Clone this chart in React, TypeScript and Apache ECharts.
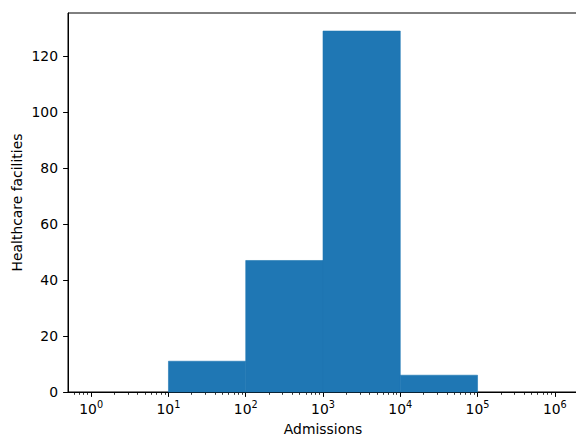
import React, { useEffect, useRef } from "react";
import * as echarts from "echarts";

const binEdges = [1, 10, 100, 1000, 10000, 100000, 1000000];
const counts = [0, 11, 47, 129, 6, 0];
const majorTickExponents = [0, 1, 2, 3, 4, 5, 6];
const yTicks = [0, 20, 40, 60, 80, 100, 120];

const xMin = -0.3;
const xMax = 6.3;
const yMax = 135.45;

const FONT = "DejaVu Sans";
const FS = 13.9;
const BAR_COLOR = "#1f77b4";

function minorTicks(): number[] {
  const out: number[] = [];
  for (let k = -1; k <= 6; k++) {
    for (let m = 2; m <= 9; m++) {
      const v = Math.log10(m * Math.pow(10, k));
      if (v > xMin && v < xMax) out.push(v);
    }
  }
  return out;
}

export default function App() {
  const ref = useRef<HTMLDivElement>(null);
  useEffect(() => {
    if (!ref.current) return;
    const chart = echarts.init(ref.current, null, { renderer: "svg" });
    const barData = counts.map((c, i) => [
      Math.log10(binEdges[i]),
      Math.log10(binEdges[i + 1]),
      c,
    ]);
    chart.setOption({
      animation: false,
      backgroundColor: "#ffffff",
      textStyle: { fontFamily: FONT },
      grid: {
        left: 68,
        top: 13,
        width: 510,
        height: 379,
        outerBoundsMode: "none",
        containLabel: false,
        show: true,
        borderColor: "#000000",
        borderWidth: 1,
        backgroundColor: "transparent",
      },
      xAxis: [
        {
          type: "value",
          min: xMin,
          max: xMax,
          position: "bottom",
          name: "Admissions",
          nameLocation: "middle",
          nameGap: 30,
          nameMoveOverlap: false,
          nameTextStyle: { fontFamily: FONT, fontSize: FS, color: "#000" },
          axisLine: { show: true, onZero: false, lineStyle: { color: "#000", width: 1 } },
          axisTick: {
            show: true,
            length: 4.9,
            customValues: majorTickExponents,
            lineStyle: { color: "#000", width: 1 },
          },
          splitLine: { show: false },
          axisLabel: {
            customValues: majorTickExponents,
            margin: 7,
            formatter: (v: number) => `{b|10}{s|${Math.round(v)}}`,
            rich: {
              b: { fontFamily: FONT, fontSize: FS, color: "#000", verticalAlign: "bottom", lineHeight: 17 },
              s: { fontFamily: FONT, fontSize: 9.7, color: "#000", verticalAlign: "bottom", lineHeight: 17, padding: [0, 0, 7, 0] },
            },
          },
        },
        {
          type: "value",
          min: xMin,
          max: xMax,
          position: "bottom",
          axisLine: { show: false, onZero: false },
          axisTick: {
            show: true,
            length: 2.8,
            customValues: minorTicks(),
            lineStyle: { color: "#000", width: 0.8 },
          },
          axisLabel: { show: false },
          splitLine: { show: false },
        },
      ],
      yAxis: {
        type: "value",
        min: 0,
        max: yMax,
        interval: 20,
        name: "Healthcare facilities",
        nameLocation: "middle",
        nameGap: 44,
        nameMoveOverlap: false,
        nameTextStyle: { fontFamily: FONT, fontSize: FS, color: "#000" },
        axisLine: { show: true, onZero: false, lineStyle: { color: "#000", width: 1 } },
        axisTick: { show: true, length: 4.9, customValues: yTicks, lineStyle: { color: "#000", width: 1 } },
        splitLine: { show: false },
        axisLabel: {
          customValues: yTicks,
          margin: 10,
          fontFamily: FONT,
          fontSize: FS,
          color: "#000",
        },
      },
      series: [
        {
          type: "custom",
          xAxisIndex: 0,
          yAxisIndex: 0,
          encode: { x: [0, 1], y: 2 },
          data: barData,
          renderItem: (params: any, api: any) => {
            const count = api.value(2);
            const p0 = api.coord([api.value(0), 0]);
            const p1 = api.coord([api.value(1), count]);
            return {
              type: "rect",
              shape: { x: p0[0], y: p1[1], width: p1[0] - p0[0], height: p0[1] - p1[1] },
              style: count > 0
                ? { fill: BAR_COLOR, stroke: BAR_COLOR, lineWidth: 0.6 }
                : { fill: BAR_COLOR },
            };
          },
        },
      ],
    });
    return () => chart.dispose();
  }, []);
  return (
    <div
      ref={ref}
      style={{ position: "fixed", left: 0, top: 0, width: 576, height: 439, background: "#fff" }}
    />
  );
}
